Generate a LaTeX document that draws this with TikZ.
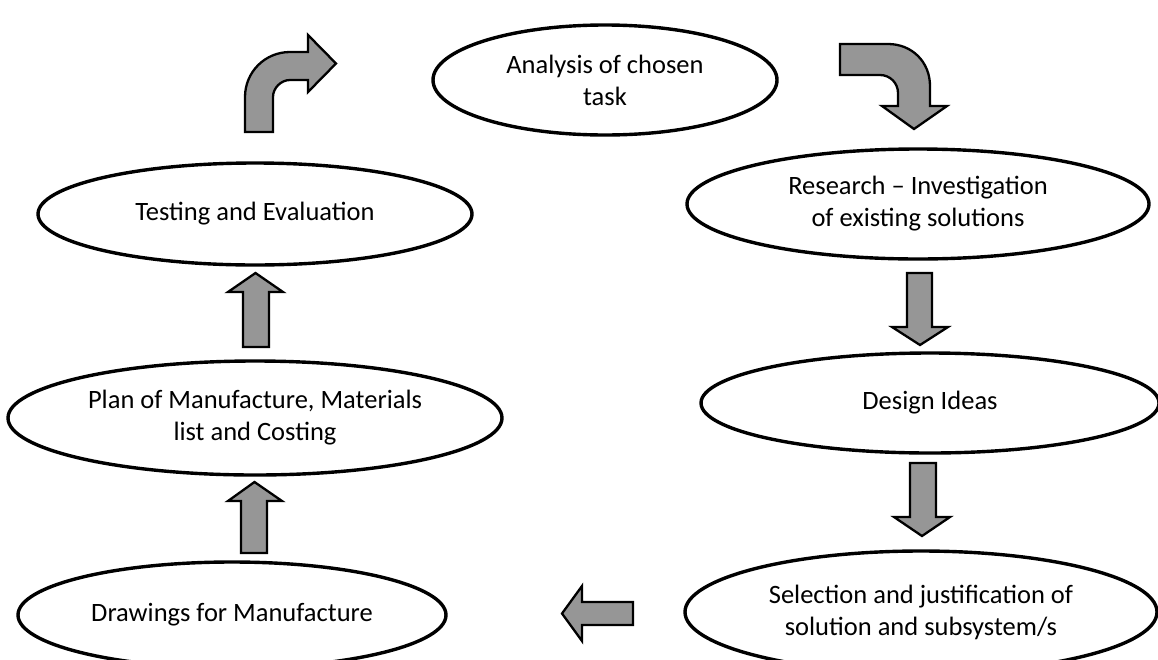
\documentclass[tikz,border=0pt]{standalone}
\usepackage{fontspec}
\setmainfont{Carlito}
\usetikzlibrary{shapes.geometric}
\definecolor{arrowgray}{RGB}{150,150,150}
\tikzset{
  stage/.style={draw=black, line width=3.4pt, ellipse, inner sep=0pt, align=center,
    font=\fontsize{26.5}{32}\selectfont},
  blockarrow/.style={draw=black, fill=arrowgray, line width=2.3pt, line join=miter}
}
\begin{document}
\begin{tikzpicture}[x=1pt,y=-1pt]
\clip (0,0) rectangle (1158,659);
\fill[white] (0,0) rectangle (1158,659);
% stages
\node[stage, minimum width=344pt, minimum height=110pt] (analysis) at (605,80) {Analysis of chosen\\task};
\node[stage, minimum width=462pt, minimum height=110pt] (research) at (918,204) {Research -- Investigation\\of existing solutions};
\node[stage, minimum width=458pt, minimum height=100pt] (design) at (930,403) {Design Ideas};
\node[stage, minimum width=472pt, minimum height=122pt] (selection) at (921,612) {Selection and justification of\\solution and subsystem/s};
\node[stage, minimum width=428pt, minimum height=106pt] (drawings) at (232,615) {Drawings for Manufacture};
\node[stage, minimum width=494pt, minimum height=114pt] (plan) at (255,418) {Plan of Manufacture, Materials\\list and Costing};
\node[stage, minimum width=434pt, minimum height=102pt] (testing) at (255,214) {Testing and Evaluation};
% curved arrow top-left (testing -> analysis)
\draw[blockarrow] (245,132) -- (245,97) .. controls (245,72) and (265,52) .. (290,52)
  -- (308,52) -- (308,35) -- (336,63.5) -- (308,92) -- (308,80) -- (290,80)
  .. controls (281,80) and (273,88) .. (273,97) -- (273,132) -- cycle;
% curved arrow top-right (analysis -> research)
\draw[blockarrow] (840,44) -- (888,44) .. controls (912,44) and (930,62) .. (930,86)
  -- (930,106) -- (947,106) -- (914,129) -- (882,106) -- (898,106) -- (898,93)
  .. controls (898,83) and (890,75) .. (880,75) -- (840,75) -- cycle;
% research -> design
\draw[blockarrow] (907,273) -- (932,273) -- (932,327) -- (948,327) -- (920,345) -- (892,327) -- (907,327) -- cycle;
% design -> selection
\draw[blockarrow] (910,463) -- (936,463) -- (936,517) -- (950,517) -- (922,536) -- (894,517) -- (910,517) -- cycle;
% selection -> drawings
\draw[blockarrow] (633,602) -- (633,625) -- (582,625) -- (582,641) -- (562,613.5) -- (582,586) -- (582,602) -- cycle;
% drawings -> plan
\draw[blockarrow] (241,553) -- (267,553) -- (267,501) -- (282,501) -- (254.5,482) -- (228,501) -- (241,501) -- cycle;
% plan -> testing
\draw[blockarrow] (243,347) -- (269,347) -- (269,292) -- (283,292) -- (255.5,273) -- (228,292) -- (243,292) -- cycle;
\end{tikzpicture}
\end{document}
